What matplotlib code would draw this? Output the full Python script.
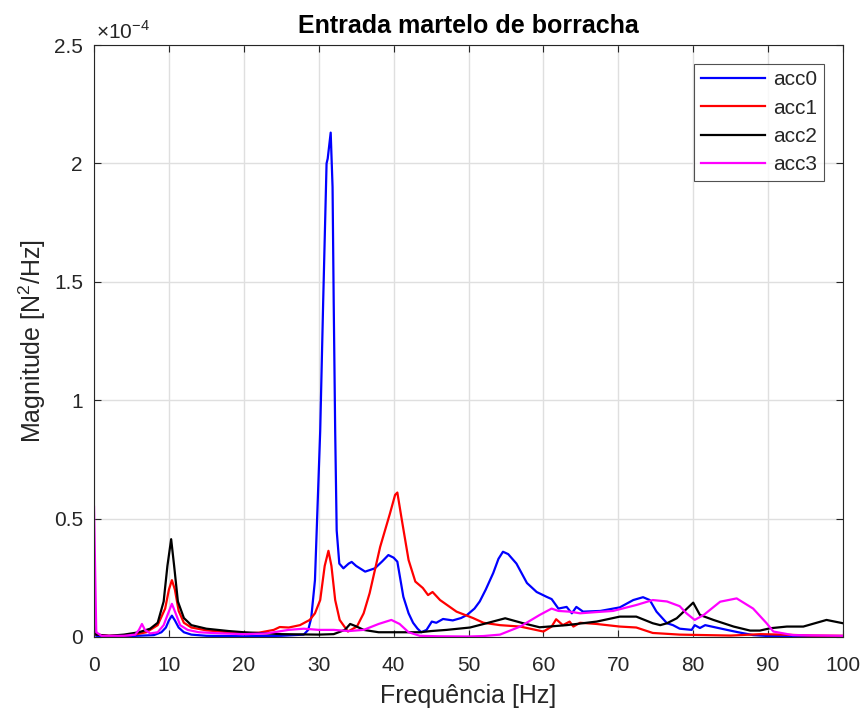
import matplotlib
matplotlib.use("Agg")
import matplotlib.pyplot as plt
import numpy as np

plt.rcParams["font.family"] = ["Liberation Sans", "DejaVu Sans"]
plt.rcParams["mathtext.fontset"] = "custom"
plt.rcParams["mathtext.rm"] = "Liberation Sans"

# Power spectra (values in units of 1e-4 N^2/Hz), as (frequency Hz, magnitude) pairs
acc0 = [(0, 0.02), (0.3, 0.005), (2, 0.003), (5, 0.004), (8, 0.008), (9, 0.02), (9.6, 0.04),
        (10.0, 0.07), (10.4, 0.09), (10.8, 0.07), (11.3, 0.04), (12, 0.02), (13, 0.01),
        (15, 0.005), (20, 0.003), (25, 0.005), (28, 0.01), (28.6, 0.03), (29.0, 0.08),
        (29.5, 0.24), (30.2, 0.87), (30.6, 1.42), (31.05, 2.0), (31.2, 2.02), (31.6, 2.13),
        (31.85, 1.9), (32.0, 1.42), (32.2, 0.87), (32.4, 0.45), (32.75, 0.31), (33.3, 0.29),
        (34.0, 0.31), (34.4, 0.317), (35.0, 0.30), (36.2, 0.276), (37.5, 0.29), (38.5, 0.32),
        (39.3, 0.346), (40.0, 0.335), (40.5, 0.318), (41.3, 0.17), (42.0, 0.1), (42.6, 0.06),
        (43.2, 0.035), (43.7, 0.02), (44.4, 0.03), (45.1, 0.065), (45.7, 0.06), (46.6, 0.076),
        (47.9, 0.07), (49.0, 0.08), (49.8, 0.093), (50.8, 0.12), (51.5, 0.15), (52.3, 0.2),
        (53.3, 0.27), (54.0, 0.33), (54.6, 0.36), (55.3, 0.35), (56.4, 0.31), (57.8, 0.228),
        (59.1, 0.19), (60.4, 0.17), (61.1, 0.16), (62.0, 0.12), (63.1, 0.127), (63.8, 0.1),
        (64.4, 0.127), (65.3, 0.107), (67.6, 0.11), (70.2, 0.125), (72.0, 0.156), (73.3, 0.168),
        (74.2, 0.156), (75.1, 0.107), (76.5, 0.058), (77.3, 0.05), (78.2, 0.035), (79.8, 0.03),
        (80.2, 0.05), (80.9, 0.038), (81.6, 0.05), (84.5, 0.03), (86, 0.02), (88, 0.008),
        (90, 0.004), (95, 0.003), (100, 0.002)]

acc1 = [(0, 0.06), (0.3, 0.01), (2, 0.005), (5, 0.008), (7, 0.02), (8.5, 0.05), (9.5, 0.12),
        (10.0, 0.2), (10.4, 0.24), (10.8, 0.2), (11.3, 0.11), (12, 0.06), (13, 0.04),
        (15, 0.028), (18, 0.02), (20, 0.015), (22, 0.018), (24, 0.03), (24.8, 0.042),
        (26, 0.04), (27.5, 0.05), (28.8, 0.072), (29.5, 0.1), (30.2, 0.156), (30.8, 0.3),
        (31.3, 0.364), (31.7, 0.3), (32.2, 0.156), (32.8, 0.072), (33.9, 0.023), (35.1, 0.044),
        (36.0, 0.1), (36.8, 0.185), (38.2, 0.38), (39.5, 0.52), (40.2, 0.6), (40.5, 0.61),
        (41.1, 0.494), (42.0, 0.325), (42.9, 0.234), (43.9, 0.207), (44.6, 0.177), (45.2, 0.19),
        (46.2, 0.156), (48.4, 0.107), (50.6, 0.08), (52.0, 0.06), (54.2, 0.05), (56.9, 0.044),
        (60.0, 0.023), (61.1, 0.044), (61.7, 0.075), (62.6, 0.05), (63.5, 0.065), (64.0, 0.044),
        (64.9, 0.06), (67.1, 0.055), (70.2, 0.044), (72.4, 0.04), (74.6, 0.017), (78.2, 0.01),
        (85, 0.006), (89, 0.012), (92, 0.01), (96, 0.006), (100, 0.005)]

acc2 = [(0, 0.13), (0.3, 0.01), (2, 0.005), (4, 0.01), (6, 0.02), (7.5, 0.035), (8.5, 0.06),
        (9.3, 0.15), (9.8, 0.3), (10.3, 0.413), (10.7, 0.3), (11.2, 0.15), (12, 0.08),
        (13, 0.05), (15, 0.035), (18, 0.025), (20, 0.02), (25, 0.012), (30, 0.01), (32, 0.012),
        (33.5, 0.03), (34.2, 0.055), (35, 0.045), (36, 0.03), (38, 0.02), (41, 0.02),
        (43.5, 0.02), (45, 0.025), (47.1, 0.03), (50.2, 0.04), (52.4, 0.058), (54.9, 0.079),
        (57.3, 0.058), (59.5, 0.041), (63.1, 0.05), (67.1, 0.065), (70.2, 0.086), (72.4, 0.086),
        (74.6, 0.058), (75.6, 0.05), (76.5, 0.058), (77.8, 0.079), (78.5, 0.1), (80, 0.145),
        (80.9, 0.093), (82.7, 0.072), (85.4, 0.044), (87.6, 0.027), (88.9, 0.027), (90.3, 0.037),
        (92.5, 0.044), (94.7, 0.044), (97.8, 0.072), (100, 0.058)]

acc3 = [(0, 0.55), (0.3, 0.02), (1, 0.005), (4, 0.005), (5.5, 0.01), (6.0, 0.03), (6.4, 0.055),
        (6.8, 0.03), (7.5, 0.015), (8.5, 0.02), (9.3, 0.05), (9.9, 0.1), (10.4, 0.14),
        (10.9, 0.1), (11.5, 0.05), (12.5, 0.03), (14, 0.02), (17, 0.015), (20, 0.012),
        (23, 0.015), (26, 0.03), (28, 0.035), (30, 0.03), (32, 0.03), (34, 0.025), (36, 0.03),
        (38, 0.055), (39.7, 0.072), (40.8, 0.055), (42, 0.02), (43.5, 0.005), (46, 0.003),
        (50, 0.002), (52, 0.004), (54.2, 0.01), (56.9, 0.044), (59.5, 0.093), (61.1, 0.12),
        (62.0, 0.11), (63.5, 0.107), (64.9, 0.1), (67, 0.105), (69.3, 0.11), (72.4, 0.135),
        (74.6, 0.156), (76.5, 0.15), (78.2, 0.13), (79.1, 0.1), (80.2, 0.072), (81.4, 0.093),
        (83.6, 0.149), (85.8, 0.163), (88, 0.12), (89.8, 0.058), (90.7, 0.023), (93.3, 0.008),
        (100, 0.005)]

series = {"acc0": acc0, "acc1": acc1, "acc2": acc2, "acc3": acc3}
colors = {"acc0": "#0000ff", "acc1": "#ff0000", "acc2": "#000000", "acc3": "#ff00ff"}

x_ticks = [0, 10, 20, 30, 40, 50, 60, 70, 80, 90, 100]
y_ticks = [0, 0.5, 1, 1.5, 2, 2.5]
y_tick_labels = ["0", "0.5", "1", "1.5", "2", "2.5"]

axis_gray = "#262626"

fig = plt.figure(figsize=(8.64, 7.11), dpi=100)
ax = fig.add_axes([0.1088, 0.1041, 0.8669, 0.8326])

for name, pts in series.items():
    f, v = np.array(pts).T
    ax.plot(f, v, color=colors[name], lw=1.6, label=name, solid_joinstyle="round")

ax.set_xlim(0, 100)
ax.set_ylim(0, 2.5)
ax.set_xticks(x_ticks)
ax.set_yticks(y_ticks)
ax.set_yticklabels(y_tick_labels)
ax.grid(True, color="#dfdfdf", lw=1.0)
ax.set_axisbelow(True)
ax.tick_params(direction="in", length=5, width=0.8, colors=axis_gray,
               labelsize=15, top=True, right=True, labeltop=False, labelright=False)
ax.tick_params(axis="x", pad=14)
ax.tick_params(axis="y", pad=8)
for s in ax.spines.values():
    s.set_color(axis_gray)
    s.set_linewidth(0.8)

ax.set_xlabel("Frequência [Hz]", fontsize=18, color=axis_gray, labelpad=6)
ax.set_ylabel(r"Magnitude [N$^{\mathregular{2}}$/Hz]", fontsize=18, color=axis_gray, labelpad=4)
ax.set_title("Entrada martelo de borracha", fontsize=18, fontweight="bold", color="black", pad=9)

ax.text(0.003, 1.004, r"×10$^{\mathregular{-4}}$", transform=ax.transAxes,
        fontsize=15, color=axis_gray, ha="left", va="bottom")

leg = ax.legend(loc="upper right", bbox_to_anchor=(0.9746, 0.968), fontsize=15,
                frameon=True, fancybox=False, edgecolor="#262626", handlelength=3.1,
                labelspacing=0.45, borderpad=0.3, handletextpad=0.4, borderaxespad=0)
leg.get_frame().set_linewidth(0.8)
for t in leg.get_texts():
    t.set_color(axis_gray)

fig.savefig("out.png", dpi=100, facecolor="white")
